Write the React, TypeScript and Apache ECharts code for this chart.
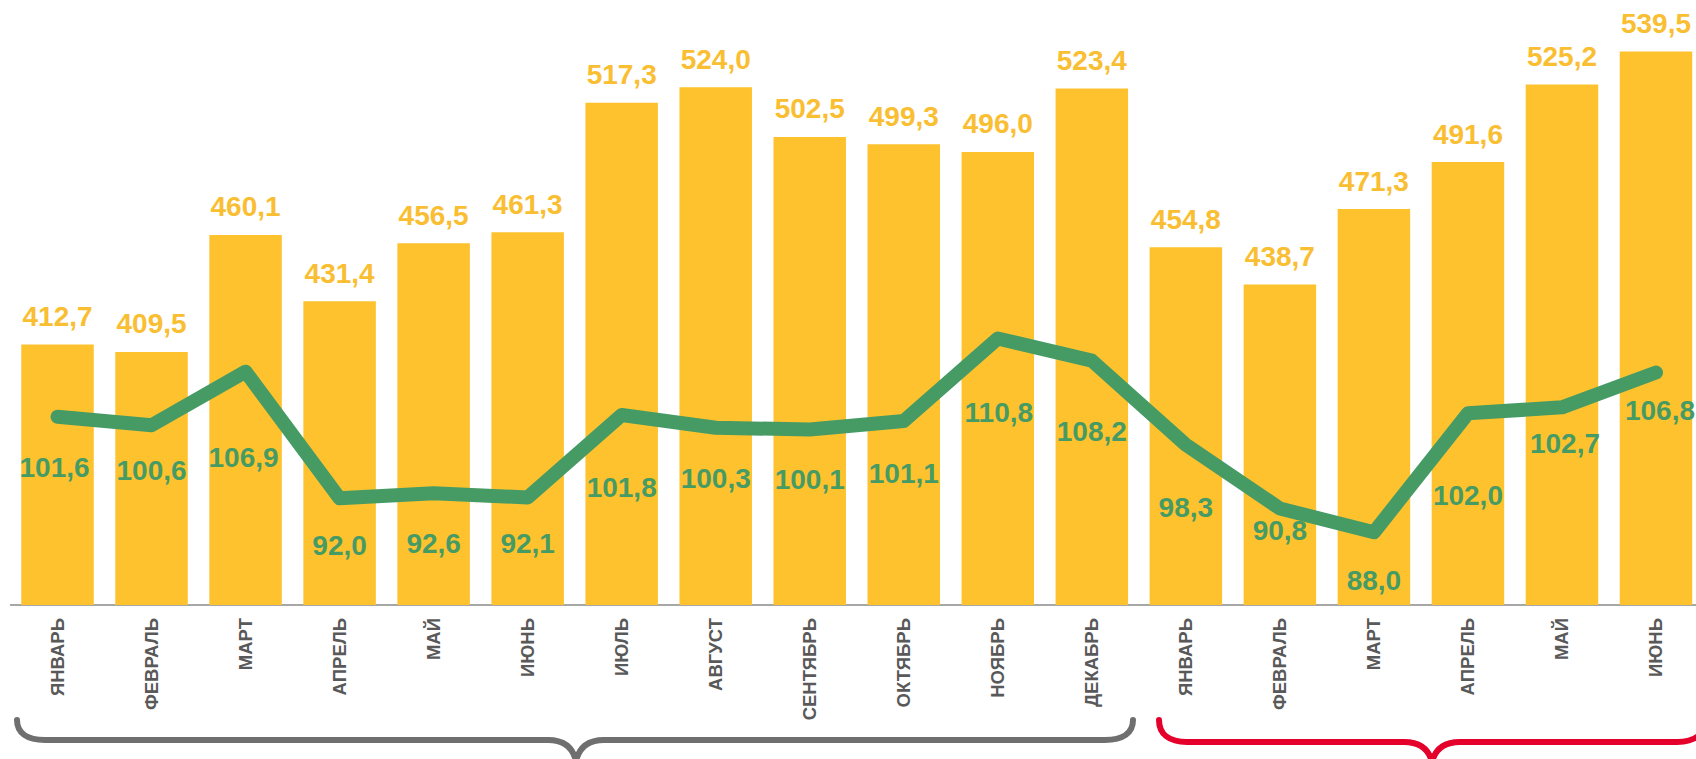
import React, { useEffect, useRef } from "react";
import * as echarts from "echarts";

const categories = [
  "ЯНВАРЬ", "ФЕВРАЛЬ", "МАРТ", "АПРЕЛЬ", "МАЙ", "ИЮНЬ", "ИЮЛЬ", "АВГУСТ", "СЕНТЯБРЬ",
  "ОКТЯБРЬ", "НОЯБРЬ", "ДЕКАБРЬ", "ЯНВАРЬ", "ФЕВРАЛЬ", "МАРТ", "АПРЕЛЬ", "МАЙ", "ИЮНЬ",
];
const barValues = [
  412.7, 409.5, 460.1, 431.4, 456.5, 461.3, 517.3, 524.0, 502.5,
  499.3, 496.0, 523.4, 454.8, 438.7, 471.3, 491.6, 525.2, 539.5,
];
const lineValues = [
  101.6, 100.6, 106.9, 92.0, 92.6, 92.1, 101.8, 100.3, 100.1,
  101.1, 110.8, 108.2, 98.3, 90.8, 88.0, 102.0, 102.7, 106.8,
];
// label placement offsets (px) of the line labels relative to their points
const lineLabelDy = [51, 45, 86, 47, 50, 46, 72, 51, 50, 53, 74, 71, 63, 22, 48, 82, 36, 38];
const lineLabelDx = [-3, 0, -2, 0, 0, 0, 0, 0, 0, 0, 1, 0, 0, 0, 0, 0, 3, 4];

const BAR_COLOR = "#FEC22F";
const BAR_LABEL = "#F9BE31";
const LINE_COLOR = "#469B65";

echarts.graphic.registerShape(
  "bracketGrey",
  echarts.graphic.extendPath(
    "M17,720 C17,733 27,740 45,740 L548,740 C565,740 573,748 576,761 C579,748 587,740 604,740 L1105,740 C1123,740 1133,733 1133,720",
    {}
  )
);
echarts.graphic.registerShape(
  "bracketRed",
  echarts.graphic.extendPath(
    "M1159,720 C1159,734 1169,742 1187,742 L1404,742 C1421,742 1429,750 1432,762 C1435,750 1443,742 1460,742 L1677,742 C1695,742 1705,734 1705,720",
    {}
  )
);

const fmt = (v: number) => v.toFixed(1).replace(".", ",");

export default function App() {
  const ref = useRef<HTMLDivElement>(null);
  useEffect(() => {
    if (!ref.current) return;
    const chart = echarts.init(ref.current, null, { renderer: "svg" });
    chart.setOption({
      animation: false,
      backgroundColor: "#ffffff",
      textStyle: { fontFamily: "Liberation Sans, Arial, sans-serif" },
      grid: { left: 10.5, right: 0, top: 4, bottom: 154, containLabel: false },
      xAxis: {
        type: "category",
        data: categories,
        axisLine: { show: true, lineStyle: { color: "#8a8a8a", width: 1.5 } },
        axisTick: { show: false },
        axisLabel: {
          rotate: 90,
          margin: 13,
          color: "#595959",
          fontSize: 18.5,
          fontWeight: "bold",
          fontFamily: "Liberation Sans, Arial, sans-serif",
          interval: 0,
        },
        splitLine: { show: false },
      },
      yAxis: [
        { type: "value", min: 300, max: 560, show: false, splitLine: { show: false } },
        { type: "value", min: 79.45, max: 150.15, show: false, splitLine: { show: false } },
      ],
      series: [
        {
          type: "bar",
          data: barValues,
          barWidth: 72.5,
          itemStyle: { color: BAR_COLOR },
          label: {
            show: true,
            position: "top",
            distance: 14,
            color: BAR_LABEL,
            fontSize: 28,
            fontWeight: "bold",
            fontFamily: "Liberation Sans, Arial, sans-serif",
            formatter: (p: any) => fmt(p.value),
          },
          z: 2,
        },
        {
          type: "line",
          yAxisIndex: 1,
          data: lineValues.map((v, i) => ({
            value: v,
            label: { offset: [lineLabelDx[i], lineLabelDy[i]] },
          })),
          symbol: "circle",
          symbolSize: 2,
          itemStyle: { color: LINE_COLOR },
          lineStyle: { color: LINE_COLOR, width: 14, cap: "round", join: "round" },
          label: {
            show: true,
            position: "inside",
            color: LINE_COLOR,
            fontSize: 28,
            fontWeight: "bold",
            fontFamily: "Liberation Sans, Arial, sans-serif",
            formatter: (p: any) => fmt(p.value),
          },
          z: 3,
        },
      ],
      graphic: [
        {
          type: "bracketGrey",
          x: 0,
          y: 0,
          silent: true,
          style: { stroke: "#6f6f6f", fill: "none", lineWidth: 6, lineCap: "round" },
        },
        {
          type: "bracketRed",
          x: 0,
          y: 0,
          silent: true,
          style: { stroke: "#E4002B", fill: "none", lineWidth: 6, lineCap: "round" },
        },
      ],
    });
    return () => chart.dispose();
  }, []);
  return (
    <div
      ref={ref}
      style={{ position: "fixed", left: 0, top: 0, width: 1703, height: 759, background: "#fff" }}
    />
  );
}
